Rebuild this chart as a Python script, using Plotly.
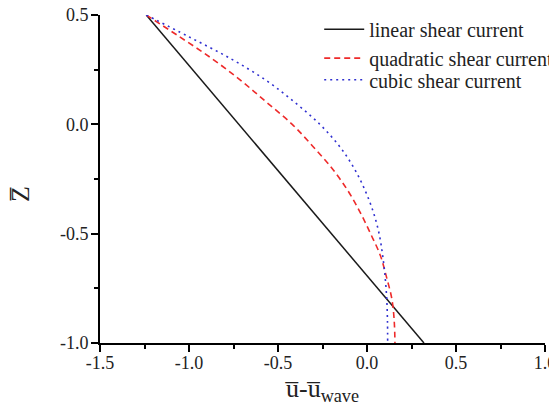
import plotly.graph_objects as go

# Data
z_linear = [0.5, -1.0]
u_linear = [-1.24, 0.32]

z_levels = [0.5, 0.4, 0.3, 0.2, 0.1, 0.0, -0.1, -0.2, -0.3, -0.4, -0.5, -0.6, -0.7, -0.8, -0.9, -1.0]
u_quadratic = [-1.24, -1.052, -0.87, -0.708, -0.563, -0.42, -0.305, -0.198, -0.11, -0.04, 0.02, 0.075, 0.11, 0.14, 0.153, 0.157]
u_cubic = [-1.24, -1.0, -0.765, -0.565, -0.405, -0.265, -0.155, -0.073, -0.012, 0.035, 0.068, 0.088, 0.102, 0.111, 0.115, 0.116]

series_names = ["linear shear current", "quadratic shear current", "cubic shear current"]

x_ticks = [-1.5, -1.0, -0.5, 0.0, 0.5, 1.0]
x_tick_labels = ["-1.5", "-1.0", "-0.5", "0.0", "0.5", "1.0"]
y_ticks = [-1.0, -0.5, 0.0, 0.5]
y_tick_labels = ["-1.0", "-0.5", "0.0", "0.5"]

x_title = "u\u0305-u\u0305<sub>wave</sub>"
y_title = "Z\u0305"

font_family = "Liberation Serif"
text_color = "#222222"

fig = go.Figure()
fig.add_trace(go.Scatter(x=u_linear, y=z_linear, mode="lines", name=series_names[0], legend="legend",
                         line=dict(color="#1a1a1a", width=1.5, dash="solid")))
fig.add_trace(go.Scatter(x=u_quadratic, y=z_levels, mode="lines", name=series_names[1], legend="legend2",
                         line=dict(color="#ee2a2a", width=1.6, dash="6px,4px", shape="spline")))
fig.add_trace(go.Scatter(x=u_cubic, y=z_levels, mode="lines", name=series_names[2], legend="legend3",
                         line=dict(color="#3030d0", width=1.6, dash="2px,4px", shape="spline")))

axis_common = dict(
    showline=True, linecolor="black", linewidth=1.6, mirror=False,
    ticks="outside", ticklen=7, tickwidth=1.5, tickcolor="black",
    showgrid=False, zeroline=False, ticklabeloverflow="allow", automargin=False,
    tickfont=dict(family=font_family, size=18, color=text_color),
)

fig.update_xaxes(range=[-1.5, 1.0], tickvals=x_ticks, ticktext=x_tick_labels,
                 minor=dict(ticks="outside", ticklen=4, tickwidth=1.5, tickcolor="black", dtick=0.25, tick0=-1.5),
                 ticklabelstandoff=-4,
                 title=dict(text=x_title, font=dict(family=font_family, size=26, color=text_color),
                            standoff=12),
                 **axis_common)
fig.update_yaxes(range=[-1.0, 0.5], tickvals=y_ticks, ticktext=y_tick_labels,
                 minor=dict(ticks="outside", ticklen=4, tickwidth=1.5, tickcolor="black", dtick=0.25, tick0=-1.0),
                 ticklabelstandoff=-1,
                 **axis_common)

# y-axis title placed as a rotated label, slightly below the plot centre as in the reference
fig.add_annotation(text=y_title, textangle=-90, xref="paper", yref="paper",
                   x=-0.177, y=0.455, xanchor="center", yanchor="middle", showarrow=False,
                   font=dict(family=font_family, size=26, color=text_color))

legend_common = dict(xanchor="left", yanchor="top", bgcolor="rgba(0,0,0,0)",
                     font=dict(family=font_family, size=20, color=text_color), itemwidth=40)

fig.update_layout(
    width=549, height=398,
    margin=dict(l=92, r=12, t=7, b=63, autoexpand=False),
    plot_bgcolor="white", paper_bgcolor="white",
    showlegend=True,
    legend=dict(x=0.4926, y=1.016, **legend_common),
    legend2=dict(x=0.4926, y=0.928, **legend_common),
    legend3=dict(x=0.4926, y=0.862, **legend_common),
)

fig.write_html("out.html")
